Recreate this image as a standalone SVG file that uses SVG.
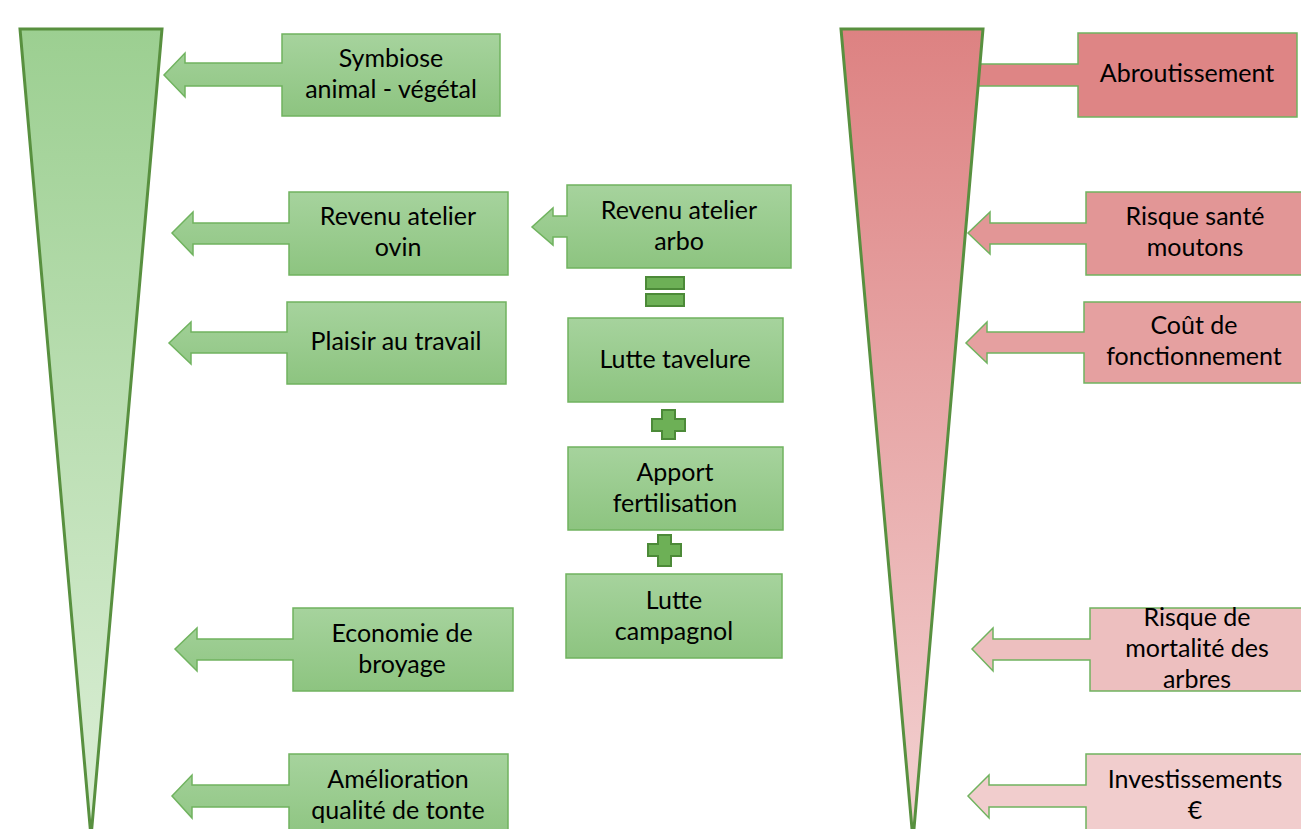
<svg xmlns="http://www.w3.org/2000/svg" width="1301" height="829" viewBox="0 0 1301 829">
<style>
  .t { font-family: Lato, "Open Sans", "Liberation Sans", sans-serif; font-size: 25px; fill: #000; text-anchor: middle; }
  .g { fill: url(#gBox); stroke: #70b35f; stroke-width: 1.5; }
  .r { stroke: #70b35f; stroke-width: 1.5; }
  .tri { stroke: #58903f; stroke-width: 3; stroke-linejoin: miter; }
  .op { fill: #6db056; stroke: #4c8a38; stroke-width: 2; }
</style>
<defs>
  <linearGradient id="gBox" x1="0" y1="0" x2="0" y2="1">
    <stop offset="0" stop-color="#a6d39d"/>
    <stop offset="1" stop-color="#8dc480"/>
  </linearGradient>
  <linearGradient id="gTriL" gradientUnits="userSpaceOnUse" x1="0" y1="29" x2="0" y2="837">
    <stop offset="0" stop-color="#9ccf91"/>
    <stop offset="1" stop-color="#dcefd7"/>
  </linearGradient>
  <linearGradient id="gTriR" gradientUnits="userSpaceOnUse" x1="0" y1="29" x2="0" y2="840">
    <stop offset="0" stop-color="#dd8282"/>
    <stop offset="1" stop-color="#f3d2d2"/>
  </linearGradient>
</defs>
<rect width="1301" height="829" fill="#ffffff"/>

<!-- right-side callout partly hidden behind the red triangle -->
<g id="abroutissement">
  <path class="r" fill="#de8585" d="M1078,33 H1297 V117 H1078 V86 H930 V97 L910,75 L930,53 V64 H1078 Z"/>
  <text class="t" x="1187" y="82">Abroutissement</text>
</g>

<g id="triangle-droite">
  <path class="tri" fill="url(#gTriR)" d="M841,29 H983 L913,840 Z"/>
</g>
<g id="triangle-gauche">
  <path class="tri" fill="url(#gTriL)" d="M20,29 H162 L91,837 Z"/>
</g>

<g id="connecteurs">
  <g id="egal">
    <rect class="op" x="646" y="277" width="38" height="12"/>
    <rect class="op" x="646" y="294" width="38" height="12"/>
  </g>
  <path id="plus1" class="op" d="M662,410 H675 V419 H685 V431 H675 V439 H662 V431 H652 V419 H662 Z"/>
  <path id="plus2" class="op" d="M658,535 H671 V544 H681 V556 H671 V566 H658 V556 H648 V544 H658 Z"/>
</g>

<!-- left callouts -->
<g id="symbiose">
  <path class="g" d="M282,34 H500 V116 H282 V86 H185 V97 L164,75 L185,53 V63 H282 Z"/>
  <text class="t" x="391" y="67">Symbiose</text>
  <text class="t" x="391" y="98">animal - végétal</text>
</g>
<g id="revenu-ovin">
  <path class="g" d="M289,192 H508 V275 H289 V244 H193 V255 L172,233 L193,212 V223 H289 Z"/>
  <text class="t" x="398" y="225">Revenu atelier</text>
  <text class="t" x="398" y="256">ovin</text>
</g>
<g id="plaisir">
  <path class="g" d="M287,302 H506 V384 H287 V353 H191 V364 L169,343 L191,322 V332 H287 Z"/>
  <text class="t" x="396" y="350">Plaisir au travail</text>
</g>
<g id="economie">
  <path class="g" d="M293,608 H513 V691 H293 V660 H197 V671 L175,649 L197,628 V639 H293 Z"/>
  <text class="t" x="402" y="642">Economie de</text>
  <text class="t" x="402" y="673">broyage</text>
</g>
<g id="amelioration">
  <path class="g" d="M289,754 H508 V840 H289 V807 H192 V818 L172,796 L192,775 V785 H289 Z"/>
  <text class="t" x="398" y="788">Amélioration</text>
  <text class="t" x="398" y="819">qualité de tonte</text>
</g>

<!-- central column -->
<g id="revenu-arbo">
  <path class="g" d="M567,185 H791 V268 H567 V237 H553 V245 L532,227 L553,208 V216 H567 Z"/>
  <text class="t" x="679" y="219">Revenu atelier</text>
  <text class="t" x="679" y="250">arbo</text>
</g>
<g id="lutte-tavelure">
  <rect class="g" x="568" y="318" width="215" height="84"/>
  <text class="t" x="675" y="368">Lutte tavelure</text>
</g>
<g id="apport-fertilisation">
  <rect class="g" x="568" y="447" width="215" height="83"/>
  <text class="t" x="675" y="481">Apport</text>
  <text class="t" x="675" y="512">fertilisation</text>
</g>
<g id="lutte-campagnol">
  <rect class="g" x="566" y="574" width="216" height="84"/>
  <text class="t" x="674" y="609">Lutte</text>
  <text class="t" x="674" y="640">campagnol</text>
</g>

<!-- right callouts -->
<g id="risque-sante">
  <path class="r" fill="#e29696" d="M1086,192 H1304 V275 H1086 V244 H990 V254 L968,233 L990,212 V223 H1086 Z"/>
  <text class="t" x="1195" y="225">Risque santé</text>
  <text class="t" x="1195" y="256">moutons</text>
</g>
<g id="cout-fonctionnement">
  <path class="r" fill="#e5a0a0" d="M1084,302 H1304 V383 H1084 V353 H987 V363 L966,343 L987,322 V332 H1084 Z"/>
  <text class="t" x="1194" y="334">Coût de</text>
  <text class="t" x="1194" y="365">fonctionnement</text>
</g>
<g id="risque-mortalite">
  <path class="r" fill="#edbfbf" d="M1090,608 H1304 V691 H1090 V660 H993 V671 L972,649 L993,628 V639 H1090 Z"/>
  <text class="t" x="1197" y="626">Risque de</text>
  <text class="t" x="1197" y="657">mortalité des</text>
  <text class="t" x="1197" y="688">arbres</text>
</g>
<g id="investissements">
  <path class="r" fill="#f1cdcd" d="M1086,754 H1304 V840 H1086 V807 H989 V818 L968,796 L989,775 V785 H1086 Z"/>
  <text class="t" x="1195" y="788">Investissements</text>
  <text class="t" x="1195" y="819">€</text>
</g>
</svg>
